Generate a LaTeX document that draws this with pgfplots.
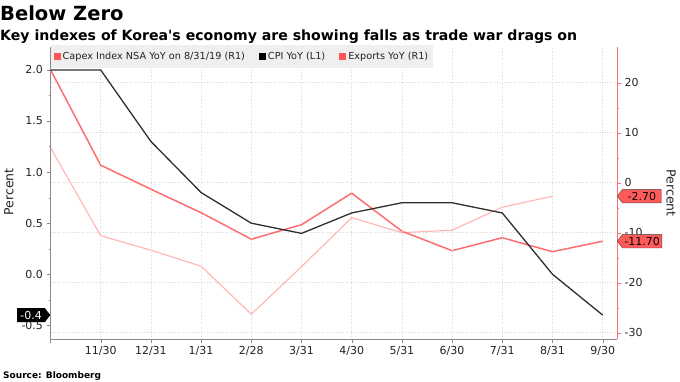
\documentclass[border=0pt]{standalone}
\usepackage{fontspec}
\setmainfont{DejaVu Sans}
\usepackage{pgfplots}
\pgfplotsset{compat=1.18}
\usetikzlibrary{shapes.symbols}
\definecolor{expred}{HTML}{FF6E6E}
\definecolor{capexpink}{HTML}{FFB3B3}
\definecolor{cpiblack}{HTML}{2E2E2E}
\definecolor{legred}{HTML}{FF5555}
\definecolor{gridgray}{HTML}{DADADA}
\definecolor{axgray}{HTML}{8A8A8A}
\definecolor{txt}{HTML}{222222}
\definecolor{leggray}{HTML}{EFEFEF}
\definecolor{flagred}{HTML}{FF5A5A}

\pgfplotstableread{
x cpi
0 2.0
1 2.0
2 1.3
3 0.8
4 0.5
5 0.4
6 0.6
7 0.7
8 0.7
9 0.6
10 0.0
11 -0.4
}\cpidata
\pgfplotstableread{
x exp
0 22.6
1 3.5
2 -1.3
3 -6.0
4 -11.3
5 -8.4
6 -2.1
7 -9.7
8 -13.6
9 -11.0
10 -13.8
11 -11.7
}\expdata
\pgfplotstableread{
x capex
0 7.0
1 -10.6
2 -13.5
3 -16.7
4 -26.3
5 -16.8
6 -7.0
7 -10.0
8 -9.5
9 -4.9
10 -2.7
}\capexdata

\begin{document}
\begin{tikzpicture}[x=1pt,y=1pt]
\path[use as bounding box] (0,0) rectangle (680,-382);
\node[anchor=base west, inner sep=0, font=\bfseries\fontsize{19.5}{19.5}\selectfont] at (0,-21) {Below Zero};
\node[anchor=base west, inner sep=0, font=\bfseries\fontsize{14.1}{14.1}\selectfont] at (0,-41) {Key indexes of Korea\textquotesingle s economy are showing falls as trade war drags on};
\node[anchor=base west, inner sep=0, font=\bfseries\fontsize{9}{9}\selectfont] at (3,-378) {Source: Bloomberg};
\node[rotate=90, font=\fontsize{12.5}{12.5}\selectfont, text=txt] at (9,-192) {Percent};
\node[rotate=-90, font=\fontsize{12.5}{12.5}\selectfont, text=txt] at (671,-193) {Percent};

\pgfplotsset{
  base/.style={
    scale only axis, width=566.5pt, height=292pt,
    at={(50.5pt,-339pt)}, anchor=south west,
    xmin=0, xmax=11.285,
    xtick={0,...,11},
    tick align=outside,
    separate axis lines,
    major tick length=4pt, minor tick length=2pt,
    clip=false,
    /pgf/number format/assume math mode=true,
    ticklabel style={font=\fontsize{11}{11}\selectfont, text=txt},
  }
}

% right axis: exports and capex
\begin{axis}[base,
  ymin=-31.26, ymax=27.14,
  axis y line*=right, axis x line=none,
  y axis line style={draw=expred, line width=0.9pt},
  ytick={-30,-20,...,20},
  minor y tick num=1,
  ytick style={draw=expred},
  major tick style={draw=expred},
  minor tick style={draw=expred},
  ymajorgrids,
  major grid style={dotted, gridgray, line width=0.6pt},
]
\addplot[capexpink, line width=1.1pt] table[x=x, y=capex] {\capexdata};
\addplot[expred, line width=1.5pt] table[x=x, y=exp] {\expdata};
\coordinate (fcapex) at (axis cs:11.285,-2.7);
\coordinate (fexp) at (axis cs:11.285,-11.7);
\coordinate (rb) at (rel axis cs:1,0);
\coordinate (rt) at (rel axis cs:1,1);
\end{axis}

% left axis: CPI
\begin{axis}[base,
  ymin=-0.634, ymax=2.225,
  axis y line*=left, axis x line*=bottom,
  ytick pos=left, xtick pos=bottom,
  x axis line style={draw=axgray, line width=0.6pt},
  y axis line style={draw=axgray, line width=0.6pt},
  tick style={draw=axgray},
  ytick={-0.5,0,0.5,1,1.5,2},
  minor y tick num=1,
  yticklabel style={/pgf/number format/.cd, fixed, fixed zerofill, precision=1},
  xticklabels={,11/30,12/31,1/31,2/28,3/31,4/30,5/31,6/30,7/31,8/31,9/30},
  xmajorgrids,
  major grid style={dotted, gridgray, line width=0.6pt},
  legend style={at={(0,1)}, yshift=2pt, anchor=north west, fill=leggray, draw=none,
    font=\fontsize{9.7}{9.7}\selectfont, text=txt, legend columns=3,
    /tikz/every even column/.append style={column sep=12pt},
    inner ysep=5pt, inner xsep=3pt, row sep=0pt},
  legend image code/.code={\fill[#1] (0pt,-3.5pt) rectangle (7pt,3.5pt);},
  legend cell align=left,
]
\addlegendimage{fill=legred, draw=none}\addlegendentry{Capex Index NSA YoY on 8/31/19 (R1)}
\addlegendimage{fill=black, draw=none}\addlegendentry{CPI YoY (L1)}
\addlegendimage{fill=legred, draw=none}\addlegendentry{Exports YoY (R1)}
\addplot[cpiblack, line width=1.3pt, forget plot] table[x=x, y=cpi] {\cpidata};
\coordinate (fcpi) at (axis cs:0,-0.4);
\end{axis}

\draw[expred, line width=0.9pt] (rb) -- (rt);

\node[signal, signal to=west, signal pointer angle=105, fill=flagred, draw=black!70, line width=0.4pt,
  anchor=west, inner xsep=2pt, inner ysep=1.5pt, minimum height=13.5pt, minimum width=44pt,
  font=\fontsize{11}{11}\selectfont, text=black] at (fcapex) {-2.70};
\node[signal, signal to=west, signal pointer angle=105, fill=flagred, draw=black!70, line width=0.4pt,
  anchor=west, inner xsep=2pt, inner ysep=1.5pt, minimum height=13.5pt, minimum width=44pt,
  font=\fontsize{11}{11}\selectfont, text=black] at (fexp) {-11.70};
\node[signal, signal to=east, signal pointer angle=105, fill=black,
  anchor=east, inner xsep=2pt, inner ysep=1.5pt, minimum height=14pt, minimum width=33pt,
  font=\fontsize{11}{11}\selectfont, text=white] at (fcpi) {-0.4};
\end{tikzpicture}
\end{document}
